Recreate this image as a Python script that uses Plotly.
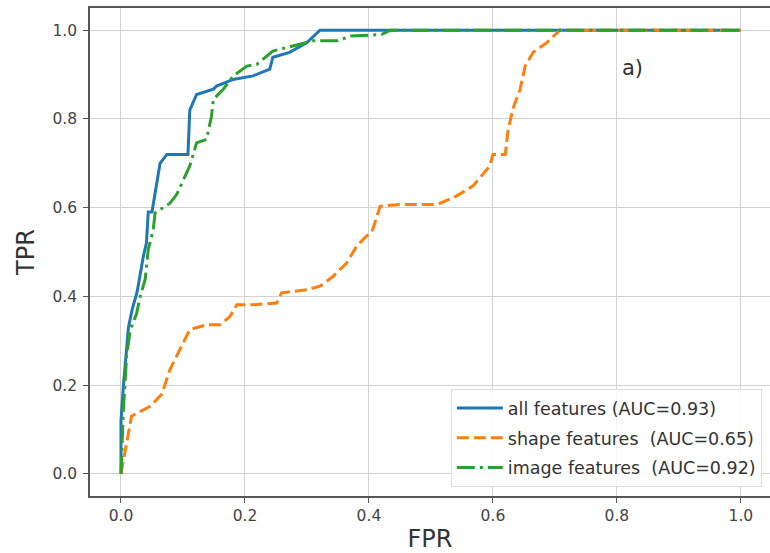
import plotly.graph_objects as go

# ROC curve data
all_fpr = [0.0, 0.0, 0.004, 0.008, 0.012, 0.018, 0.026, 0.031, 0.036, 0.041, 0.044, 0.05, 0.055, 0.063, 0.074, 0.108, 0.111, 0.122, 0.149, 0.154, 0.181, 0.213, 0.240, 0.245, 0.272, 0.300, 0.321, 1.0]
all_tpr = [0.0, 0.12, 0.2, 0.27, 0.33, 0.37, 0.41, 0.45, 0.49, 0.52, 0.59, 0.59, 0.634, 0.70, 0.72, 0.72, 0.82, 0.855, 0.867, 0.874, 0.889, 0.897, 0.912, 0.939, 0.950, 0.972, 1.0, 1.0]

shape_fpr = [0.0, 0.005, 0.009, 0.017, 0.047, 0.066, 0.079, 0.095, 0.111, 0.138, 0.160, 0.176, 0.187, 0.213, 0.251, 0.259, 0.300, 0.321, 0.342, 0.364, 0.380, 0.406, 0.418, 0.450, 0.510, 0.541, 0.568, 0.595, 0.600, 0.620, 0.624, 0.632, 0.644, 0.652, 0.665, 0.687, 0.708, 1.0]
shape_tpr = [0.0, 0.04, 0.07, 0.13, 0.152, 0.18, 0.235, 0.28, 0.325, 0.336, 0.336, 0.355, 0.381, 0.381, 0.385, 0.408, 0.415, 0.423, 0.445, 0.475, 0.513, 0.55, 0.603, 0.607, 0.607, 0.626, 0.649, 0.694, 0.72, 0.72, 0.77, 0.822, 0.867, 0.919, 0.95, 0.972, 1.0, 1.0]

image_fpr = [0.0, 0.002, 0.004, 0.006, 0.009, 0.015, 0.025, 0.031, 0.039, 0.044, 0.052, 0.055, 0.079, 0.090, 0.111, 0.122, 0.138, 0.146, 0.149, 0.165, 0.181, 0.203, 0.219, 0.245, 0.278, 0.300, 0.310, 0.350, 0.370, 0.420, 0.435, 1.0]
image_tpr = [0.0, 0.10, 0.15, 0.19, 0.265, 0.325, 0.36, 0.40, 0.438, 0.506, 0.55, 0.588, 0.61, 0.63, 0.694, 0.746, 0.754, 0.806, 0.844, 0.867, 0.897, 0.919, 0.923, 0.953, 0.964, 0.972, 0.976, 0.976, 0.987, 0.99, 1.0, 1.0]

series_names = ["all features (AUC=0.93)", "shape features\u00a0 (AUC=0.65)", "image features\u00a0 (AUC=0.92)"]
tick_vals = [0.0, 0.2, 0.4, 0.6, 0.8, 1.0]
tick_text = ["0.0", "0.2", "0.4", "0.6", "0.8", "1.0"]

FONT = "DejaVu Sans"

fig = go.Figure()
fig.add_trace(go.Scatter(x=all_fpr, y=all_tpr, mode="lines", name=series_names[0], legendgroup="a",
                         line=dict(color="#1f77b4", width=3)))
fig.add_trace(go.Scatter(x=shape_fpr, y=shape_tpr, mode="lines", name=series_names[1], legendgroup="b",
                         line=dict(color="#ff7f0e", width=3, dash="12px,5px")))
fig.add_trace(go.Scatter(x=image_fpr, y=image_tpr, mode="lines", name=series_names[2], legendgroup="c",
                         line=dict(color="#2ca02c", width=3, dash="18px,5px,3px,5px")))

axis_common = dict(
    showgrid=True, gridcolor="#d3d3d3", gridwidth=1,
    showline=True, linecolor="#555", linewidth=1.5, mirror=True,
    ticks="outside", ticklen=5, tickcolor="#555", tickwidth=1.2,
    zeroline=False, tickvals=tick_vals, ticktext=tick_text,
    tickfont=dict(family=FONT, size=15.5, color="#444"),
)

fig.update_xaxes(range=[-0.05, 1.047],
                 title=dict(text="FPR", font=dict(family=FONT, size=24, color="#333"), standoff=6),
                 **axis_common)
fig.update_yaxes(range=[-0.05, 1.05], ticklabelstandoff=3,
                 title=dict(text="TPR", font=dict(family=FONT, size=24, color="#333"), standoff=11),
                 **axis_common)

fig.add_annotation(x=0.825, y=0.915, xref="x", yref="y", text="a)", showarrow=False,
                   font=dict(family=FONT, size=21, color="#333"))

fig.update_layout(
    width=770, height=553,
    margin=dict(l=90, r=0, t=8, b=57, autoexpand=False),
    plot_bgcolor="white", paper_bgcolor="white",
    showlegend=True,
    legend=dict(x=0.988, y=0.018, xanchor="right", yanchor="bottom",
                bgcolor="rgba(255,255,255,0.85)", bordercolor="#ddd", borderwidth=1,
                itemwidth=46,
                font=dict(family=FONT, size=17.5, color="#333"), tracegroupgap=4),
)

fig.write_html("out.html", config={"displayModeBar": False},
               post_script="document.body.style.margin='0';")
